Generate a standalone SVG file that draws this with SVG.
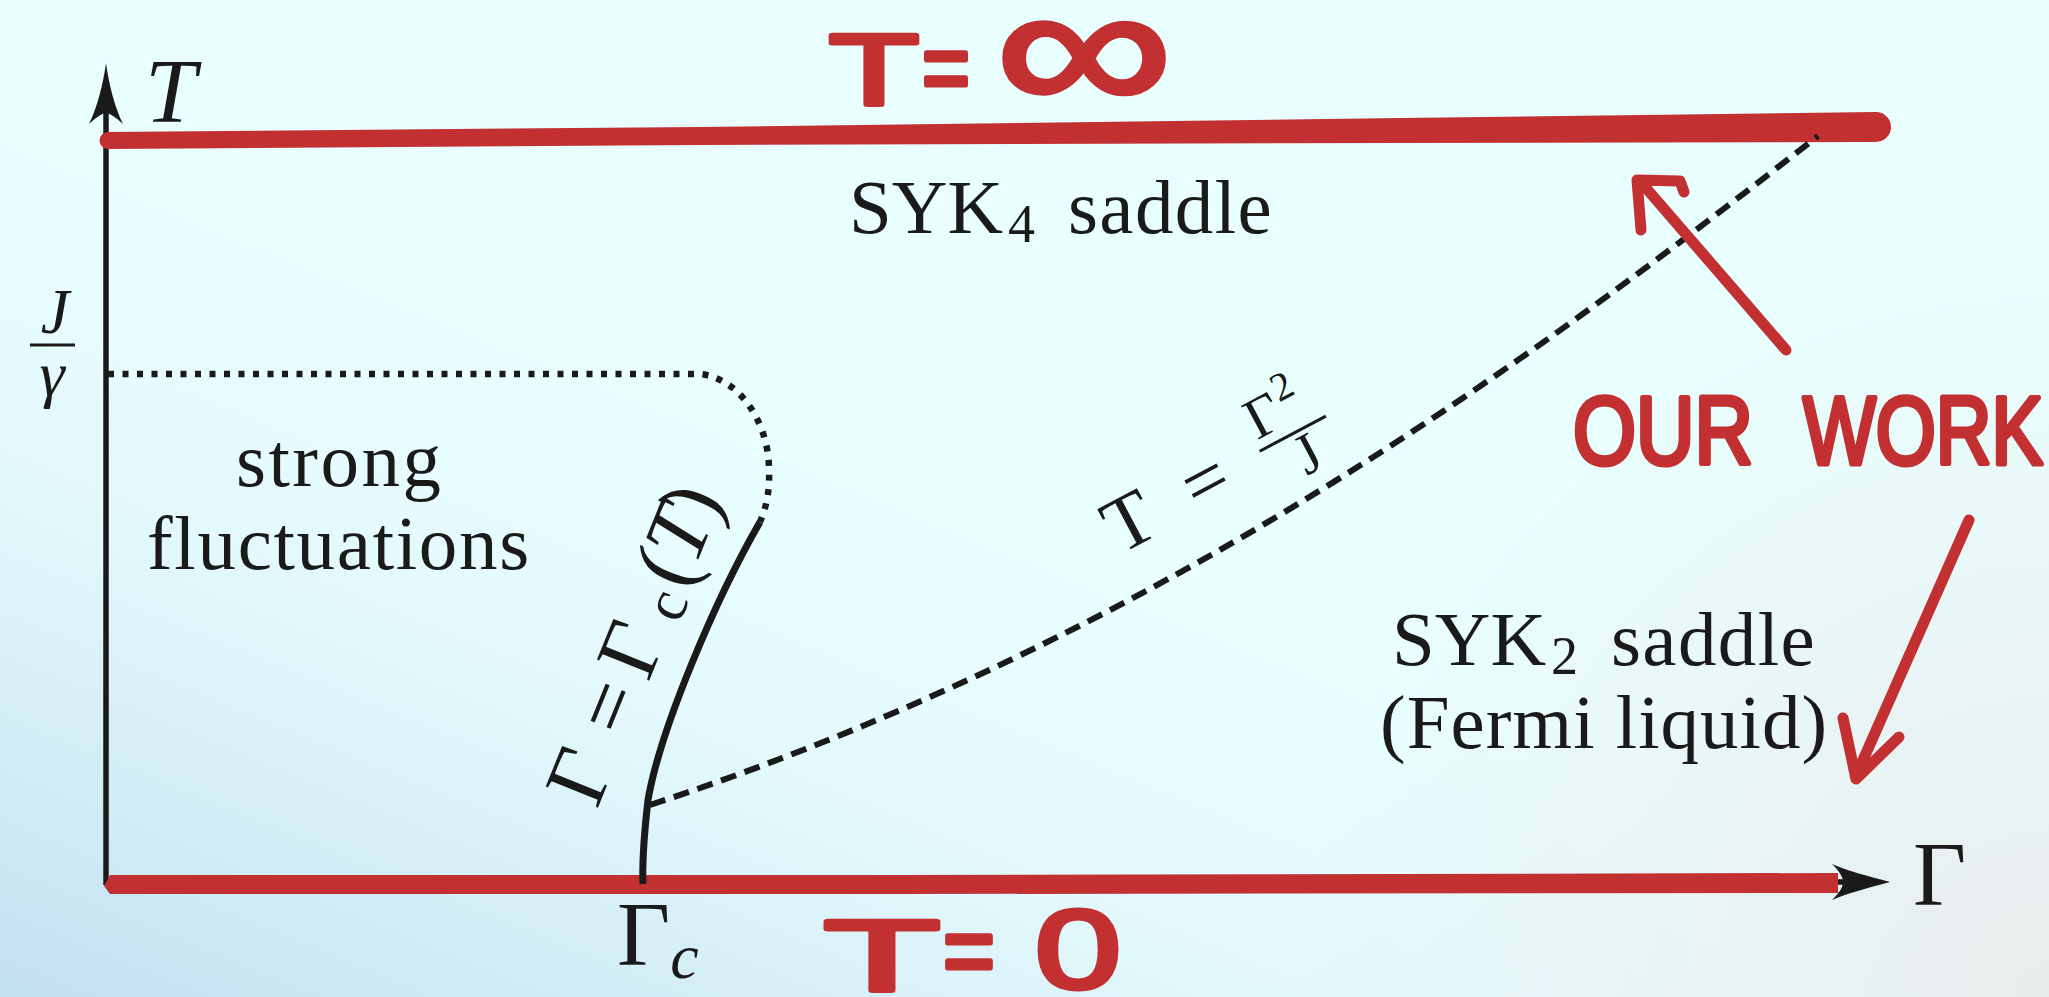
<svg xmlns="http://www.w3.org/2000/svg" width="2049" height="997" viewBox="0 0 2049 997">
<defs>
 <linearGradient id="bg" gradientUnits="userSpaceOnUse" x1="760" y1="420" x2="420" y2="1250">
  <stop offset="0" stop-color="#e9ffff"/>
  <stop offset="0.35" stop-color="#e3f9fc"/>
  <stop offset="0.7" stop-color="#d0ebf5"/>
  <stop offset="1" stop-color="#bcdcef"/>
 </linearGradient>
 <radialGradient id="br" gradientUnits="userSpaceOnUse" cx="2049" cy="997" r="750">
  <stop offset="0" stop-color="#e9eced" stop-opacity="1"/>
  <stop offset="1" stop-color="#e9eced" stop-opacity="0"/>
 </radialGradient>
 <style>
  .cm { font-family: "Liberation Serif", "Times New Roman", serif; fill: #1a1a1a; }
  .it { font-style: italic; }
  .hand { font-family: "Liberation Sans", Arial, sans-serif; font-weight: normal; fill: #c23032; stroke: #c23032; stroke-width: 5; stroke-linejoin: round; stroke-linecap: round; }
  .red { stroke: #c23032; fill: none; stroke-linecap: round; stroke-linejoin: round; }
  .ax { stroke: #1a1a1a; stroke-width: 5.5; fill: none; }
  .head { fill: #1a1a1a; }
  .redfill { fill: #c23032; }
 </style>
</defs>
<rect x="0" y="0" width="2049" height="997" fill="url(#bg)"/>
<rect x="0" y="0" width="2049" height="997" fill="url(#br)"/>

<g id="t-axis">
 <line class="ax" x1="106" y1="885" x2="106" y2="100"/>
 <path class="head" d="M106,63 C109,85 115,108 123,124 C115,117 110,113 106,113 C102,113 97,117 89,124 C97,108 103,85 106,63 Z"/>
</g>
<g id="gamma-axis">
 <line class="ax" x1="105" y1="884" x2="1845" y2="882"/>
 <path class="head" d="M1890,882 C1868,876 1848,871 1832,864 C1840,872 1843,877 1843,882 C1843,887 1840,892 1832,900 C1848,893 1868,888 1890,882 Z"/>
</g>

<g id="t-infinity-line">
 <path class="redfill" d="M108,132 L700,127 L1400,118 L1876,112 A15,15 0 0 1 1876,142 L1400,143 L700,145 L108,149 A8.5,8.5 0 0 1 108,132 Z"/>
</g>
<g id="t-zero-line">
 <path class="redfill" d="M110,875 L900,875 L1838,873 L1838,893 L900,894 L110,894 L104,886 Z"/>
</g>

<g id="connectors">
 <path id="crossover-dotted" d="M108,374 L700,374 C738,378 768,420 769,468 C770,492 766,508 760,522" fill="none" stroke="#1a1a1a" stroke-width="6.5" stroke-dasharray="6 8.5"/>
 <path id="gamma-c-line" d="M760,522 C715,600 660,730 648,800 C644,835 642,860 643,884" fill="none" stroke="#1a1a1a" stroke-width="7"/>
 <path id="t-gamma2-dashed" d="M650,805 C1157,638 1518,370 1818,136" fill="none" stroke="#1a1a1a" stroke-width="6" stroke-dasharray="16 9"/>
 <path id="arrow-up" class="red" d="M1786,350 L1646,188 M1641,230 L1637,180 L1680,181 L1684,192" stroke-width="11"/>
 <path id="arrow-down" class="red" d="M1969,520 L1856,776 M1843,718 L1856,779 L1899,737" stroke-width="11"/>
</g>

<g id="label-T">
 <text class="cm it" x="145" y="122" font-size="92">T</text>
</g>
<g id="label-J-gamma">
 <text class="cm it" x="55" y="333" font-size="64" text-anchor="middle">J</text>
 <line x1="30" y1="345" x2="75" y2="345" stroke="#1a1a1a" stroke-width="3"/>
 <text class="cm it" x="52" y="395" font-size="64" text-anchor="middle">γ</text>
</g>
<g id="label-Gamma">
 <text class="cm" x="1913" y="905" font-size="92">Γ</text>
</g>
<g id="label-Gamma-c">
 <text class="cm" x="617" y="965" font-size="92">Γ<tspan class="it" font-size="64" dy="13">c</tspan></text>
</g>
<g id="label-syk4">
 <text class="cm" y="233" font-size="77"><tspan x="849">SYK</tspan><tspan x="1008" font-size="54" dy="9">4</tspan><tspan x="1068" dy="-9" letter-spacing="1.4">saddle</tspan></text>
</g>
<g id="label-syk2">
 <text class="cm" y="665" font-size="77"><tspan x="1392">SYK</tspan><tspan x="1551" font-size="54" dy="9">2</tspan><tspan x="1611" dy="-9" letter-spacing="1.4">saddle</tspan></text>
 <text class="cm" x="1380" y="748" font-size="77" letter-spacing="1">(Fermi liquid)</text>
</g>
<g id="label-strong">
 <text class="cm" x="236" y="486" font-size="77" letter-spacing="2.5">strong</text>
 <text class="cm" x="147" y="569" font-size="77" letter-spacing="1.7">fluctuations</text>
</g>
<g id="label-gamma-c-T" transform="translate(597,810) rotate(-68)">
 <text class="cm" font-size="86" y="0"><tspan x="0">Γ</tspan><tspan x="76">=</tspan><tspan x="137">Γ</tspan><tspan x="203" font-size="60" dy="7">c</tspan><tspan x="236" dy="-7">(</tspan><tspan x="263" class="it">T</tspan><tspan x="307">)</tspan></text>
</g>
<g id="label-T-gamma2-J" transform="translate(1120,555) rotate(-28)">
 <text class="cm" font-size="78"><tspan x="0" y="0">T</tspan><tspan x="88" y="0">=</tspan></text>
 <line x1="172" y1="-26" x2="247" y2="-26" stroke="#1a1a1a" stroke-width="3"/>
 <text class="cm" font-size="58"><tspan x="175" y="-37">Γ</tspan><tspan x="212" y="-60" font-size="40">2</tspan><tspan x="202" y="18">J</tspan></text>
</g>

<g id="hand-T-inf">
 <text class="hand" y="104" font-size="100"><tspan x="829" textLength="90" lengthAdjust="spacingAndGlyphs">T</tspan><tspan x="922" y="102" textLength="48" lengthAdjust="spacingAndGlyphs">=</tspan><tspan x="995" y="112" font-size="186" textLength="178" lengthAdjust="spacingAndGlyphs">∞</tspan></text>
</g>
<g id="hand-T-zero">
 <text class="hand" y="990" font-size="100"><tspan x="824" textLength="116" lengthAdjust="spacingAndGlyphs">T</tspan><tspan x="943" y="985" textLength="52" lengthAdjust="spacingAndGlyphs">=</tspan><tspan x="1035" y="988" font-size="112" textLength="86" lengthAdjust="spacingAndGlyphs">0</tspan></text>
</g>
<g id="hand-our-work">
 <text class="hand" y="464" font-size="96"><tspan x="1573" textLength="180" lengthAdjust="spacingAndGlyphs">OUR</tspan> <tspan x="1803" textLength="240" lengthAdjust="spacingAndGlyphs">WORK</tspan></text>
</g>
</svg>
